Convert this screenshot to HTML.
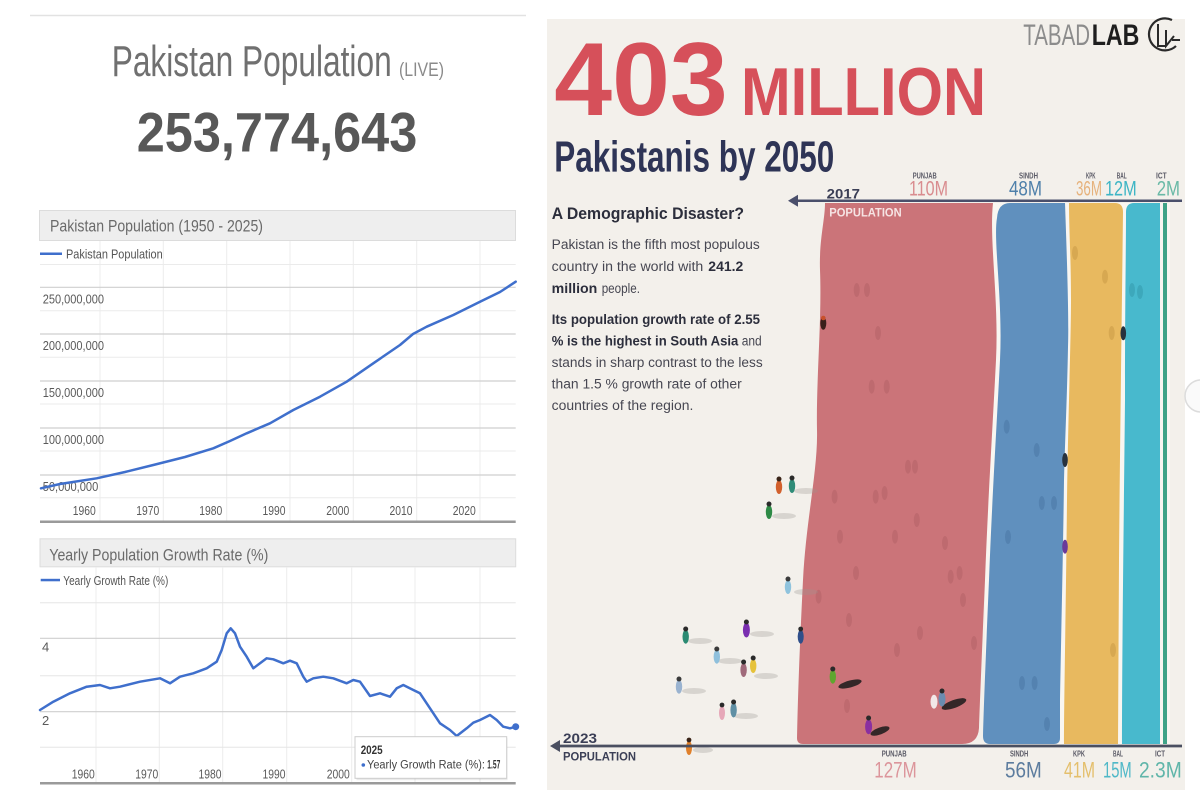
<!DOCTYPE html>
<html><head><meta charset="utf-8"><style>
html,body{margin:0;padding:0;background:#fff;width:1200px;height:800px;overflow:hidden}
svg{display:block}
text{font-family:"Liberation Sans",Arial,sans-serif}
</style></head><body>
<svg width="1200" height="800" viewBox="0 0 1200 800" xmlns="http://www.w3.org/2000/svg">
<rect x="0" y="0" width="1200" height="800" fill="#ffffff"/>

<!-- ============ LEFT PANEL ============ -->
<line x1="30" y1="15.5" x2="526" y2="15.5" stroke="#e2e2e2" stroke-width="1.5"/>
<text x="111.7" y="76" font-size="44" fill="#707070" textLength="280" lengthAdjust="spacingAndGlyphs">Pakistan Population</text>
<text x="399" y="76" font-size="19" fill="#8a8a8a" textLength="45" lengthAdjust="spacingAndGlyphs">(LIVE)</text>
<text x="136.7" y="151.7" font-size="56" font-weight="bold" fill="#585858" textLength="280.6" lengthAdjust="spacingAndGlyphs">253,774,643</text>

<!-- Chart 1 -->
<rect x="39.5" y="210.5" width="476" height="30" fill="#eeeeee" stroke="#dcdcdc" stroke-width="1"/>
<text x="50" y="231.7" font-size="17" fill="#6a6a6a" textLength="213" lengthAdjust="spacingAndGlyphs">Pakistan Population (1950 - 2025)</text>
<g stroke="#ececec" stroke-width="1">
<line x1="100" y1="241" x2="100" y2="521"/><line x1="163.3" y1="241" x2="163.3" y2="521"/>
<line x1="226.7" y1="241" x2="226.7" y2="521"/><line x1="290" y1="241" x2="290" y2="521"/>
<line x1="353.3" y1="241" x2="353.3" y2="521"/><line x1="416.7" y1="241" x2="416.7" y2="521"/>
<line x1="480" y1="241" x2="480" y2="521"/>
</g>
<g stroke="#ebebeb" stroke-width="1">
<line x1="40" y1="264.5" x2="515.7" y2="264.5"/><line x1="40" y1="310.7" x2="515.7" y2="310.7"/>
<line x1="40" y1="357.3" x2="515.7" y2="357.3"/><line x1="40" y1="404" x2="515.7" y2="404"/>
<line x1="40" y1="451" x2="515.7" y2="451"/><line x1="40" y1="497.7" x2="515.7" y2="497.7"/>
</g>
<g stroke="#cfcfcf" stroke-width="1.2">
<line x1="40" y1="287.3" x2="515.7" y2="287.3"/><line x1="40" y1="334" x2="515.7" y2="334"/>
<line x1="40" y1="381" x2="515.7" y2="381"/><line x1="40" y1="428" x2="515.7" y2="428"/>
<line x1="40" y1="475" x2="515.7" y2="475"/>
</g>
<rect x="40" y="252.5" width="22" height="2.5" fill="#3f6fcc"/>
<text x="66" y="258.3" font-size="12.5" fill="#555" textLength="96.7" lengthAdjust="spacingAndGlyphs">Pakistan Population</text>
<g font-size="13" fill="#5a5a5a">
<text x="42.7" y="303.3" textLength="61.3" lengthAdjust="spacingAndGlyphs">250,000,000</text>
<text x="42.7" y="350" textLength="61.3" lengthAdjust="spacingAndGlyphs">200,000,000</text>
<text x="42.7" y="397" textLength="61.3" lengthAdjust="spacingAndGlyphs">150,000,000</text>
<text x="42.7" y="444" textLength="61.3" lengthAdjust="spacingAndGlyphs">100,000,000</text>
<text x="42.7" y="491" textLength="55.6" lengthAdjust="spacingAndGlyphs">50,000,000</text>
</g>
<g font-size="13" fill="#5a5a5a" text-anchor="middle">
<text x="84.3" y="515" textLength="23" lengthAdjust="spacingAndGlyphs">1960</text>
<text x="147.7" y="515" textLength="23" lengthAdjust="spacingAndGlyphs">1970</text>
<text x="210.7" y="515" textLength="23" lengthAdjust="spacingAndGlyphs">1980</text>
<text x="274" y="515" textLength="23" lengthAdjust="spacingAndGlyphs">1990</text>
<text x="337.7" y="515" textLength="23" lengthAdjust="spacingAndGlyphs">2000</text>
<text x="401" y="515" textLength="23" lengthAdjust="spacingAndGlyphs">2010</text>
<text x="464.3" y="515" textLength="23" lengthAdjust="spacingAndGlyphs">2020</text>
</g>
<polyline fill="none" stroke="#3f6fcc" stroke-width="2.5" stroke-linejoin="round" stroke-linecap="round"
points="41,488.3 60,484 96.7,478.3 125,472 153.3,465 185,457 213.3,448.3 230,441 246.7,433.3 270,423.3 293.3,410 320,396.7 346.7,381.7 373.3,363.3 400,345 413,334 426.7,326.7 453.3,315 480,301.7 500,292 515.7,281.7"/>
<line x1="40" y1="521.7" x2="515.7" y2="521.7" stroke="#9a9a9a" stroke-width="2.5"/>

<!-- Chart 2 -->
<rect x="40" y="538.8" width="475.7" height="28" fill="#eeeeee" stroke="#dcdcdc" stroke-width="1"/>
<text x="49.3" y="560.7" font-size="17" fill="#6a6a6a" textLength="219" lengthAdjust="spacingAndGlyphs">Yearly Population Growth Rate (%)</text>
<g stroke="#ececec" stroke-width="1">
<line x1="96" y1="567" x2="96" y2="783"/><line x1="159.3" y1="567" x2="159.3" y2="783"/>
<line x1="222.7" y1="567" x2="222.7" y2="783"/><line x1="286.7" y1="567" x2="286.7" y2="783"/>
<line x1="351.7" y1="567" x2="351.7" y2="783"/><line x1="415" y1="567" x2="415" y2="783"/>
<line x1="480" y1="567" x2="480" y2="783"/>
</g>
<g stroke="#e6e6e6" stroke-width="1">
<line x1="40" y1="602.7" x2="515.7" y2="602.7"/><line x1="40" y1="675.7" x2="515.7" y2="675.7"/>
<line x1="40" y1="747.3" x2="515.7" y2="747.3"/>
</g>
<g stroke="#cfcfcf" stroke-width="1.2">
<line x1="40" y1="638.3" x2="515.7" y2="638.3"/><line x1="40" y1="711.7" x2="515.7" y2="711.7"/>
</g>
<rect x="40.7" y="578.8" width="19.3" height="2.5" fill="#3f6fcc"/>
<text x="63.3" y="585" font-size="12.5" fill="#555" textLength="105" lengthAdjust="spacingAndGlyphs">Yearly Growth Rate (%)</text>
<text x="42" y="651.7" font-size="13" fill="#5a5a5a">4</text>
<text x="42" y="725" font-size="13" fill="#5a5a5a">2</text>
<g font-size="13" fill="#5a5a5a" text-anchor="middle">
<text x="83.3" y="778.3" textLength="23" lengthAdjust="spacingAndGlyphs">1960</text>
<text x="146.7" y="778.3" textLength="23" lengthAdjust="spacingAndGlyphs">1970</text>
<text x="210" y="778.3" textLength="23" lengthAdjust="spacingAndGlyphs">1980</text>
<text x="274" y="778.3" textLength="23" lengthAdjust="spacingAndGlyphs">1990</text>
<text x="338.3" y="778.3" textLength="23" lengthAdjust="spacingAndGlyphs">2000</text>
</g>
<polyline fill="none" stroke="#3f6fcc" stroke-width="2.5" stroke-linejoin="round" stroke-linecap="round"
points="40,710 53.3,701.7 70,693.3 86.7,686.7 100,685 110,688.3 120,686.7 140,681.7 160,678.3 170,683.3 180,676.7 193.3,673.3 206.7,668.3 216.7,661.7 221.7,650 226.7,633.3 230.7,628.3 235,633.3 240,646.7 246.7,656.7 253.3,668.3 260,663.3 266.7,658.3 273.3,659.3 283.3,663.3 290,660.7 296.7,663.3 303.3,676.7 306.7,681.7 313.3,678.3 323.3,676.7 333.3,678.3 346.7,683.3 353.3,680 360,681.7 370,696 380,693.3 390,696.7 396.7,688.3 403.3,685 413.3,690 420,693.3 430,708.3 440,723.3 450,730 456.7,736 466.7,728.3 473.3,722.7 480,720 490,715 496.7,720 503.3,726.7 510,728.3 515.7,726.7"/>
<circle cx="515.7" cy="726.7" r="3.5" fill="#3f6fcc"/>
<line x1="40" y1="783.3" x2="515.7" y2="783.3" stroke="#9a9a9a" stroke-width="2.5"/>
<!-- tooltip -->
<rect x="356.5" y="738.2" width="151" height="42" fill="#000" opacity="0.08"/>
<rect x="355" y="736.7" width="151.7" height="41.6" fill="#ffffff" stroke="#cccccc" stroke-width="1"/>
<text x="360.7" y="754" font-size="11.5" font-weight="bold" fill="#333" textLength="22" lengthAdjust="spacingAndGlyphs">2025</text>
<circle cx="363.3" cy="765" r="1.8" fill="#3f6fcc"/>
<text x="367" y="768.3" font-size="11.5" fill="#444" textLength="118" lengthAdjust="spacingAndGlyphs">Yearly Growth Rate (%):</text>
<text x="487.3" y="768.3" font-size="11.5" font-weight="bold" fill="#333" textLength="13" lengthAdjust="spacingAndGlyphs">1.57</text>

<!-- ============ RIGHT PANEL ============ -->
<rect x="547" y="19" width="638" height="771" fill="#f3f0eb"/>
<circle cx="1201" cy="396" r="16" fill="#fafafa" stroke="#dcdcdc" stroke-width="1.5"/>
<rect x="1185.5" y="0" width="14.5" height="378" fill="#ffffff"/>
<rect x="1185.5" y="414" width="14.5" height="386" fill="#ffffff"/>

<!-- logo -->
<text x="1023.3" y="45" font-size="30" fill="#8c8c8c" textLength="66.7" lengthAdjust="spacingAndGlyphs" font-weight="normal">TABAD</text>
<text x="1091.7" y="45" font-size="30" font-weight="bold" fill="#1e1e1e" textLength="47.6" lengthAdjust="spacingAndGlyphs">LAB</text>
<path d="M1172 20 A16 16 0 1 0 1176 46" fill="none" stroke="#2a2a2a" stroke-width="2.2"/>
<path d="M1158 24 L1158 46 L1166 46 M1166 30 L1166 46 L1174 36 M1172 40 L1180 40" fill="none" stroke="#2a2a2a" stroke-width="2"/>

<!-- headline -->
<text x="554.3" y="115" font-size="104" font-weight="bold" fill="#d6505a" textLength="173.4" lengthAdjust="spacingAndGlyphs">403</text>
<text x="741" y="115" font-size="68" font-weight="bold" fill="#d6505a" textLength="245" lengthAdjust="spacingAndGlyphs">MILLION</text>
<text x="554.3" y="171.7" font-size="44" font-weight="bold" fill="#2e3456" textLength="280" lengthAdjust="spacingAndGlyphs">Pakistanis by 2050</text>

<!-- left text -->
<text x="551.7" y="219" font-size="16.5" font-weight="bold" fill="#2c2e3c" textLength="192.3" lengthAdjust="spacingAndGlyphs">A Demographic Disaster?</text>
<g font-size="13.5" fill="#474752">
<text x="551.7" y="249" textLength="208" lengthAdjust="spacingAndGlyphs">Pakistan is the fifth most populous</text>
<text x="551.7" y="271" textLength="151.6" lengthAdjust="spacingAndGlyphs">country in the world with</text>
<text x="708.3" y="271" font-weight="bold" fill="#2c2e3c" textLength="35" lengthAdjust="spacingAndGlyphs">241.2</text>
<text x="551.7" y="293" font-weight="bold" fill="#2c2e3c" textLength="45.6" lengthAdjust="spacingAndGlyphs">million</text>
<text x="601.7" y="293" textLength="38.3" lengthAdjust="spacingAndGlyphs">people.</text>
<text x="551.7" y="324" font-weight="bold" fill="#2c2e3c" textLength="208.3" lengthAdjust="spacingAndGlyphs">Its population growth rate of 2.55</text>
<text x="551.7" y="345.7" font-weight="bold" fill="#2c2e3c" textLength="186.6" lengthAdjust="spacingAndGlyphs">% is the highest in South Asia</text>
<text x="741.7" y="345.7" textLength="20" lengthAdjust="spacingAndGlyphs">and</text>
<text x="551.7" y="367" textLength="211" lengthAdjust="spacingAndGlyphs">stands in sharp contrast to the less</text>
<text x="551.7" y="388.5" textLength="190" lengthAdjust="spacingAndGlyphs">than 1.5 % growth rate of other</text>
<text x="551.7" y="410" textLength="141.7" lengthAdjust="spacingAndGlyphs">countries of the region.</text>
</g>

<!-- stripes -->
<rect x="985" y="203" width="185" height="541" fill="#f9f6f1"/>
<path d="M825 203 L993 203 C989 240 999 300 996 360 C993 420 988 500 985 580 C982 650 980 700 979 728 Q978 744 962 744 L803 744 Q797 744 797 738 C798 690 800 640 803 580 C806 520 818 470 817 430 C816 380 822 320 820 270 C819 240 825 220 825 203 Z" fill="#cb7479"/>
<path d="M997 218 Q998 203 1010 203 L1065 203 C1067 260 1069 320 1068 347 C1067 400 1065 440 1064 480 C1063 560 1061 640 1060 700 L1060 738 Q1060 744 1054 744 L990 744 Q983 744 983 736 C984 700 986 650 989 580 C992 500 997 420 1000 360 C1003 300 993 240 997 218 Z" fill="#6090be"/>
<path d="M1069 203 L1115 203 Q1123 203 1123 212 C1122 300 1120 440 1119 560 L1118 744 L1064 744 C1064 700 1066 600 1067 500 C1068 420 1071 340 1071 300 C1071 260 1069 230 1069 203 Z" fill="#e8b95f"/>
<path d="M1126 212 Q1126 203 1134 203 L1160 203 L1160 744 L1122 744 C1122 650 1124 500 1125 400 C1125 300 1126 250 1126 212 Z" fill="#48b9cd"/>
<rect x="1163" y="203" width="4" height="541" fill="#3fa387"/>

<!-- faint figures on stripes -->
<g fill="#a8585e" opacity="0.35">
<ellipse cx="856.7" cy="290" rx="3" ry="7"/><ellipse cx="867" cy="290" rx="3" ry="7"/>
<ellipse cx="878" cy="333" rx="3" ry="7"/><ellipse cx="871.7" cy="386.7" rx="3" ry="7"/>
<ellipse cx="886.7" cy="386.7" rx="3" ry="7"/><ellipse cx="908" cy="466.7" rx="3" ry="7"/>
<ellipse cx="915" cy="466.7" rx="3" ry="7"/><ellipse cx="834.6" cy="496.7" rx="3" ry="7"/>
<ellipse cx="875.7" cy="496.7" rx="3" ry="7"/><ellipse cx="884.6" cy="493" rx="3" ry="7"/>
<ellipse cx="840" cy="536.7" rx="3" ry="7"/><ellipse cx="895" cy="536.7" rx="3" ry="7"/>
<ellipse cx="916.8" cy="520" rx="3" ry="7"/><ellipse cx="945" cy="543" rx="3" ry="7"/>
<ellipse cx="856" cy="573" rx="3" ry="7"/><ellipse cx="950.7" cy="576.7" rx="3" ry="7"/>
<ellipse cx="959.6" cy="573" rx="3" ry="7"/><ellipse cx="963" cy="600" rx="3" ry="7"/>
<ellipse cx="849" cy="620" rx="3" ry="7"/><ellipse cx="920" cy="633" rx="3" ry="7"/>
<ellipse cx="897" cy="650" rx="3" ry="7"/><ellipse cx="974" cy="643" rx="3" ry="7"/>
<ellipse cx="818.6" cy="596.7" rx="3" ry="7"/><ellipse cx="847" cy="706" rx="3" ry="7"/>
</g>
<g fill="#3e6b99" opacity="0.35">
<ellipse cx="1006.7" cy="426.7" rx="3" ry="7"/><ellipse cx="1036.7" cy="450" rx="3" ry="7"/>
<ellipse cx="1008" cy="537" rx="3" ry="7"/><ellipse cx="1022" cy="683" rx="3" ry="7"/>
<ellipse cx="1034.6" cy="683" rx="3" ry="7"/><ellipse cx="1054" cy="503" rx="3" ry="7"/>
<ellipse cx="1041.8" cy="503" rx="3" ry="7"/><ellipse cx="1047" cy="724" rx="3" ry="7"/>
</g>
<g fill="#b88a3a" opacity="0.35">
<ellipse cx="1075" cy="253" rx="3" ry="7"/><ellipse cx="1105" cy="276.7" rx="3" ry="7"/>
<ellipse cx="1111.7" cy="333" rx="3" ry="7"/><ellipse cx="1113" cy="650" rx="3" ry="7"/>
</g>
<g fill="#2b8a9c" opacity="0.35">
<ellipse cx="1132" cy="290" rx="3" ry="7"/><ellipse cx="1140" cy="292" rx="3" ry="7"/>
</g>

<!-- people shadows -->
<g fill="#9a9590" opacity="0.3">
<ellipse cx="806" cy="491" rx="12" ry="3"/><ellipse cx="784" cy="516" rx="12" ry="3"/>
<ellipse cx="806" cy="592" rx="12" ry="3"/><ellipse cx="762" cy="634" rx="12" ry="3"/>
<ellipse cx="700" cy="641" rx="12" ry="3"/><ellipse cx="730" cy="661" rx="12" ry="3"/>
<ellipse cx="766" cy="676" rx="12" ry="3"/><ellipse cx="694" cy="691" rx="12" ry="3"/>
<ellipse cx="746" cy="716" rx="12" ry="3"/><ellipse cx="703" cy="750" rx="10" ry="3"/>
</g>
<g fill="#1a1a1a" opacity="0.85">
<ellipse cx="850" cy="684" rx="12" ry="3.5" transform="rotate(-15 850 684)"/>
<ellipse cx="954" cy="704" rx="13" ry="4" transform="rotate(-20 954 704)"/>
<ellipse cx="880" cy="731" rx="10" ry="3.5" transform="rotate(-20 880 731)"/>
</g>
<!-- people -->
<g>
<ellipse cx="779" cy="487" rx="3.2" ry="7" fill="#d2602d"/><circle cx="779" cy="479" r="2.5" fill="#3a2418"/>
<ellipse cx="792" cy="486" rx="3.2" ry="7" fill="#2f8c78"/><circle cx="792" cy="478" r="2.5" fill="#2a2a2a"/>
<ellipse cx="769" cy="512" rx="3.2" ry="7" fill="#2e8a46"/><circle cx="769" cy="504" r="2.5" fill="#2a2a2a"/>
<ellipse cx="788" cy="587" rx="3.2" ry="7" fill="#8fc3dd"/><circle cx="788" cy="579" r="2.5" fill="#3a3a3a"/>
<ellipse cx="746.4" cy="630" rx="3.5" ry="7.5" fill="#7a2fb0"/><circle cx="746.4" cy="622" r="2.5" fill="#2a2a2a"/>
<ellipse cx="685.7" cy="636.7" rx="3.2" ry="7" fill="#2a8a72"/><circle cx="685.7" cy="629" r="2.5" fill="#2a2a2a"/>
<ellipse cx="716.8" cy="656.7" rx="3.2" ry="7" fill="#8fc0dc"/><circle cx="716.8" cy="649" r="2.5" fill="#3a3a3a"/>
<ellipse cx="743.6" cy="670" rx="3.2" ry="7" fill="#a06a7a"/><circle cx="743.6" cy="662" r="2.5" fill="#2a2a2a"/>
<ellipse cx="753.2" cy="666" rx="3.2" ry="7" fill="#e6c23a"/><circle cx="753.2" cy="658" r="2.5" fill="#2a2a2a"/>
<ellipse cx="679" cy="686.7" rx="3.2" ry="7" fill="#9ab3d0"/><circle cx="679" cy="679" r="2.5" fill="#3a3a3a"/>
<ellipse cx="722" cy="713" rx="3" ry="7" fill="#e6a7b8"/><circle cx="722" cy="705" r="2.4" fill="#2a2a2a"/>
<ellipse cx="733.6" cy="710" rx="3.2" ry="7.5" fill="#5f8fa4"/><circle cx="733.6" cy="702" r="2.5" fill="#2a2a2a"/>
<ellipse cx="689" cy="748" rx="3" ry="7" fill="#e0802a"/><circle cx="689" cy="740" r="2.4" fill="#3a2418"/>
<ellipse cx="800.7" cy="636.7" rx="3" ry="7" fill="#2f4f8a"/><circle cx="800.7" cy="629" r="2.4" fill="#2a2a2a"/>
<ellipse cx="832.8" cy="676.7" rx="3.2" ry="7" fill="#5ea62e"/><circle cx="832.8" cy="669" r="2.5" fill="#2a2a2a"/>
<ellipse cx="934" cy="701.7" rx="3.5" ry="7" fill="#f2e8e8"/><ellipse cx="942" cy="699" rx="3.5" ry="7.5" fill="#6a8cb0"/><circle cx="942" cy="691" r="2.5" fill="#2a2a2a"/>
<ellipse cx="868.6" cy="726.7" rx="3.5" ry="7.5" fill="#8a2fa0"/><circle cx="868.6" cy="718" r="2.5" fill="#2a2a2a"/>
<ellipse cx="823.3" cy="323.3" rx="3" ry="6.5" fill="#3a1f1a"/><circle cx="823.3" cy="318" r="2.3" fill="#c8502a"/>
<ellipse cx="1123.3" cy="333.3" rx="2.8" ry="7" fill="#27323f"/>
<ellipse cx="1065" cy="460" rx="2.8" ry="7" fill="#27323f"/>
<ellipse cx="1065" cy="546.7" rx="2.8" ry="7" fill="#6a3a9a"/>
</g>

<!-- 2017 axis -->
<line x1="794" y1="200.8" x2="1182" y2="200.8" stroke="#4a4f6b" stroke-width="2.5"/>
<polygon points="788,200.8 798,194.8 798,206.8" fill="#4a4f6b"/>
<text x="826.7" y="198.5" font-size="14" font-weight="bold" fill="#3b3f56" textLength="33.3" lengthAdjust="spacingAndGlyphs">2017</text>
<text x="829.3" y="216.7" font-size="11.5" font-weight="bold" fill="#f6e4e4" textLength="72.4" lengthAdjust="spacingAndGlyphs">POPULATION</text>
<g font-size="8.5" font-weight="bold" fill="#5a5a66">
<text x="912.7" y="178.3" textLength="24" lengthAdjust="spacingAndGlyphs">PUNJAB</text>
<text x="1019" y="178.3" textLength="19" lengthAdjust="spacingAndGlyphs">SINDH</text>
<text x="1086" y="178.3" textLength="9.5" lengthAdjust="spacingAndGlyphs">KPK</text>
<text x="1116.7" y="178.3" textLength="10" lengthAdjust="spacingAndGlyphs">BAL</text>
<text x="1156" y="178.3" textLength="10.7" lengthAdjust="spacingAndGlyphs">ICT</text>
</g>
<g font-size="21">
<text x="909" y="195.5" fill="#d98c8f" textLength="39" lengthAdjust="spacingAndGlyphs">110M</text>
<text x="1009" y="195.5" fill="#4f80aa" textLength="33" lengthAdjust="spacingAndGlyphs">48M</text>
<text x="1076" y="195.5" fill="#e6b27c" textLength="26" lengthAdjust="spacingAndGlyphs">36M</text>
<text x="1105" y="195.5" fill="#3db5c5" textLength="31.7" lengthAdjust="spacingAndGlyphs">12M</text>
<text x="1156.7" y="195.5" fill="#69b9a6" textLength="23.3" lengthAdjust="spacingAndGlyphs">2M</text>
</g>

<!-- 2023 axis -->
<line x1="556" y1="746" x2="1182" y2="746" stroke="#4a4f60" stroke-width="2.8"/>
<polygon points="550,746 560,740 560,752" fill="#4a4f60"/>
<text x="563" y="743" font-size="14" font-weight="bold" fill="#3b3f56" textLength="34" lengthAdjust="spacingAndGlyphs">2023</text>
<text x="563" y="760.7" font-size="12" font-weight="bold" fill="#3b3f56" textLength="73" lengthAdjust="spacingAndGlyphs">POPULATION</text>
<g font-size="8.5" font-weight="bold" fill="#5a5a66">
<text x="881.7" y="756.7" textLength="25" lengthAdjust="spacingAndGlyphs">PUNJAB</text>
<text x="1010" y="756.7" textLength="18.3" lengthAdjust="spacingAndGlyphs">SINDH</text>
<text x="1073" y="756.7" textLength="12" lengthAdjust="spacingAndGlyphs">KPK</text>
<text x="1113" y="756.7" textLength="10" lengthAdjust="spacingAndGlyphs">BAL</text>
<text x="1155" y="756.7" textLength="10" lengthAdjust="spacingAndGlyphs">ICT</text>
</g>
<g font-size="22">
<text x="874.3" y="777.3" fill="#dc959b" textLength="42.4" lengthAdjust="spacingAndGlyphs">127M</text>
<text x="1005" y="777.3" fill="#5c7c9e" textLength="36.7" lengthAdjust="spacingAndGlyphs">56M</text>
<text x="1064" y="777.3" fill="#e4bf6c" textLength="31" lengthAdjust="spacingAndGlyphs">41M</text>
<text x="1103" y="777.3" fill="#4fb8c7" textLength="28.7" lengthAdjust="spacingAndGlyphs">15M</text>
<text x="1139" y="777.3" fill="#5fb5a9" textLength="42.7" lengthAdjust="spacingAndGlyphs">2.3M</text>
</g>
</svg>
</body></html>
